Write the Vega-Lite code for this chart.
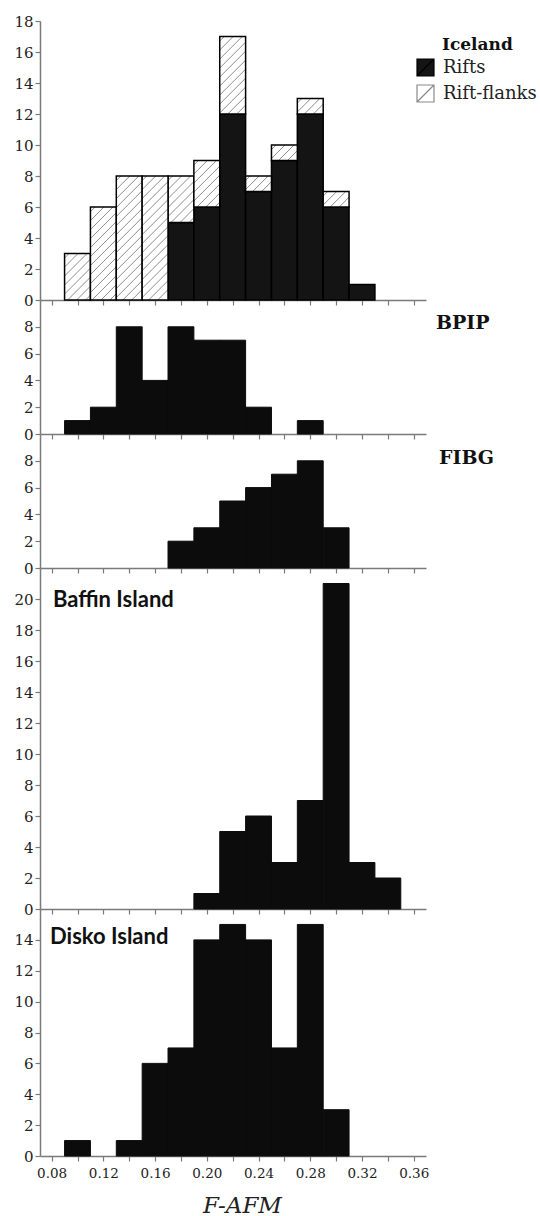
{
  "$schema": "https://vega.github.io/schema/vega-lite/v6.json",
  "padding": {"left": 13, "top": 14, "right": 2, "bottom": 2},
  "bounds": "flush",
  "spacing": 0,
  "background": "white",
  "config": {
    "view": {"stroke": null},
    "axis": {
      "domainColor": "#7a7a7a", "domainWidth": 1.5, "tickColor": "#7a7a7a", "tickWidth": 1.2, "tickSize": 5,
      "labelFont": "DejaVu Serif", "labelColor": "#222222", "grid": false, "labelFlush": false, "labelOverlap": false
    },
    "axisY": {"labelFontSize": 15, "labelPadding": 2},
    "axisX": {"labelFontSize": 13.5, "labelPadding": 5},
    "title": {"anchor": "start", "frame": "group", "orient": "top", "offset": 0, "baseline": "alphabetic", "color": "#111111", "fontWeight": "bold"}
  },
  "datasets": {
    "iceland": [
      {"bin_start": 0.09, "bin_end": 0.11, "type": "Rift-flanks", "count": 3},
      {"bin_start": 0.11, "bin_end": 0.13, "type": "Rift-flanks", "count": 6},
      {"bin_start": 0.13, "bin_end": 0.15, "type": "Rift-flanks", "count": 8},
      {"bin_start": 0.15, "bin_end": 0.17, "type": "Rift-flanks", "count": 8},
      {"bin_start": 0.17, "bin_end": 0.19, "type": "Rifts", "count": 5},
      {"bin_start": 0.17, "bin_end": 0.19, "type": "Rift-flanks", "count": 3},
      {"bin_start": 0.19, "bin_end": 0.21, "type": "Rifts", "count": 6},
      {"bin_start": 0.19, "bin_end": 0.21, "type": "Rift-flanks", "count": 3},
      {"bin_start": 0.21, "bin_end": 0.23, "type": "Rifts", "count": 12},
      {"bin_start": 0.21, "bin_end": 0.23, "type": "Rift-flanks", "count": 5},
      {"bin_start": 0.23, "bin_end": 0.25, "type": "Rifts", "count": 7},
      {"bin_start": 0.23, "bin_end": 0.25, "type": "Rift-flanks", "count": 1},
      {"bin_start": 0.25, "bin_end": 0.27, "type": "Rifts", "count": 9},
      {"bin_start": 0.25, "bin_end": 0.27, "type": "Rift-flanks", "count": 1},
      {"bin_start": 0.27, "bin_end": 0.29, "type": "Rifts", "count": 12},
      {"bin_start": 0.27, "bin_end": 0.29, "type": "Rift-flanks", "count": 1},
      {"bin_start": 0.29, "bin_end": 0.31, "type": "Rifts", "count": 6},
      {"bin_start": 0.29, "bin_end": 0.31, "type": "Rift-flanks", "count": 1},
      {"bin_start": 0.31, "bin_end": 0.33, "type": "Rifts", "count": 1}
    ],
    "bpip": [
      {"bin_start": 0.09, "bin_end": 0.11, "count": 1},
      {"bin_start": 0.11, "bin_end": 0.13, "count": 2},
      {"bin_start": 0.13, "bin_end": 0.15, "count": 8},
      {"bin_start": 0.15, "bin_end": 0.17, "count": 4},
      {"bin_start": 0.17, "bin_end": 0.19, "count": 8},
      {"bin_start": 0.19, "bin_end": 0.21, "count": 7},
      {"bin_start": 0.21, "bin_end": 0.23, "count": 7},
      {"bin_start": 0.23, "bin_end": 0.25, "count": 2},
      {"bin_start": 0.27, "bin_end": 0.29, "count": 1}
    ],
    "fibg": [
      {"bin_start": 0.17, "bin_end": 0.19, "count": 2},
      {"bin_start": 0.19, "bin_end": 0.21, "count": 3},
      {"bin_start": 0.21, "bin_end": 0.23, "count": 5},
      {"bin_start": 0.23, "bin_end": 0.25, "count": 6},
      {"bin_start": 0.25, "bin_end": 0.27, "count": 7},
      {"bin_start": 0.27, "bin_end": 0.29, "count": 8},
      {"bin_start": 0.29, "bin_end": 0.31, "count": 3}
    ],
    "baffin": [
      {"bin_start": 0.19, "bin_end": 0.21, "count": 1},
      {"bin_start": 0.21, "bin_end": 0.23, "count": 5},
      {"bin_start": 0.23, "bin_end": 0.25, "count": 6},
      {"bin_start": 0.25, "bin_end": 0.27, "count": 3},
      {"bin_start": 0.27, "bin_end": 0.29, "count": 7},
      {"bin_start": 0.29, "bin_end": 0.31, "count": 21},
      {"bin_start": 0.31, "bin_end": 0.33, "count": 3},
      {"bin_start": 0.33, "bin_end": 0.35, "count": 2}
    ],
    "disko": [
      {"bin_start": 0.09, "bin_end": 0.11, "count": 1},
      {"bin_start": 0.13, "bin_end": 0.15, "count": 1},
      {"bin_start": 0.15, "bin_end": 0.17, "count": 6},
      {"bin_start": 0.17, "bin_end": 0.19, "count": 7},
      {"bin_start": 0.19, "bin_end": 0.21, "count": 14},
      {"bin_start": 0.21, "bin_end": 0.23, "count": 15},
      {"bin_start": 0.23, "bin_end": 0.25, "count": 14},
      {"bin_start": 0.25, "bin_end": 0.27, "count": 7},
      {"bin_start": 0.27, "bin_end": 0.29, "count": 15},
      {"bin_start": 0.29, "bin_end": 0.31, "count": 3}
    ]
  },
  "vconcat": [
    {
      "width": 386, "height": 279,
      "data": {"name": "iceland"},
      "transform": [
        {"stack": "count", "groupby": ["bin_start"], "sort": [{"field": "type", "order": "descending"}], "as": ["y0", "y1"]}
      ],
      "title": {"text": "Iceland", "dx": 402, "dy": 44, "font": "DejaVu Serif", "fontSize": 17},
      "encoding": {
        "x": {"field": "bin_start", "type": "quantitative", "scale": {"domain": [0.071, 0.3695], "nice": false, "zero": false},
              "axis": {"values": [0.08, 0.1, 0.12, 0.14, 0.16, 0.18, 0.2, 0.22, 0.24, 0.26, 0.28, 0.3, 0.32, 0.34, 0.36], "labels": false, "title": null}},
        "x2": {"field": "bin_end"},
        "y": {"field": "y1", "type": "quantitative", "scale": {"domain": [0, 18], "nice": false},
              "axis": {"values": [0, 2, 4, 6, 8, 10, 12, 14, 16, 18], "title": null}},
        "y2": {"field": "y0"}
      },
      "layer": [
        {
          "transform": [{"filter": "datum.type === 'Rifts'"}],
          "mark": {"type": "bar", "strokeWidth": 1.5},
          "encoding": {
            "color": {"field": "type", "type": "nominal",
              "scale": {"domain": ["Rifts", "Rift-flanks"], "range": ["#141414", "#ffffff"]},
              "legend": {"title": null, "orient": "none", "legendX": 376, "legendY": 37,
                "symbolType": "M-1,-1H1V1H-1ZM-1,1L1,-1", "symbolSize": 289, "symbolStrokeWidth": 1.2,
                "labelFont": "DejaVu Serif", "labelFontSize": 18, "labelColor": "#222222", "labelOffset": 8, "rowPadding": 3}
            },
            "stroke": {"field": "type", "type": "nominal",
              "scale": {"domain": ["Rifts", "Rift-flanks"], "range": ["#000000", "#8a8a8a"]},
              "legend": {"title": null, "orient": "none", "legendX": 376, "legendY": 37,
                "symbolType": "M-1,-1H1V1H-1ZM-1,1L1,-1", "symbolSize": 289, "symbolStrokeWidth": 1.2,
                "labelFont": "DejaVu Serif", "labelFontSize": 18, "labelColor": "#222222", "labelOffset": 8, "rowPadding": 3}
            }
          }
        },
        {
          "transform": [{"filter": "datum.type === 'Rift-flanks' && datum.count === 1"}],
          "mark": {"type": "bar", "stroke": "#000000", "strokeWidth": 1.5,
            "fill": {"gradient": "linear", "x1": 0, "y1": 0, "x2": 1.1767, "y2": 0.7053, "stops": [
              {"offset": 0, "color": "#ffffff"},
              {"offset": 0.0846, "color": "#ffffff"}, {"offset": 0.1088, "color": "#8c8c8c"}, {"offset": 0.1330, "color": "#ffffff"},
              {"offset": 0.3022, "color": "#ffffff"}, {"offset": 0.3264, "color": "#8c8c8c"}, {"offset": 0.3506, "color": "#ffffff"},
              {"offset": 0.5198, "color": "#ffffff"}, {"offset": 0.5440, "color": "#8c8c8c"}, {"offset": 0.5682, "color": "#ffffff"},
              {"offset": 0.7374, "color": "#ffffff"}, {"offset": 0.7616, "color": "#8c8c8c"}, {"offset": 0.7858, "color": "#ffffff"},
              {"offset": 1, "color": "#ffffff"}
            ]}}
        },
        {
          "transform": [{"filter": "datum.type === 'Rift-flanks' && datum.count === 3"}],
          "mark": {"type": "bar", "stroke": "#000000", "strokeWidth": 1.5,
            "fill": {"gradient": "linear", "x1": 0, "y1": 0, "x2": 0.6609, "y2": 1.1885, "stops": [
              {"offset": 0, "color": "#ffffff"},
              {"offset": 0.0484, "color": "#ffffff"}, {"offset": 0.0622, "color": "#8c8c8c"}, {"offset": 0.0760, "color": "#ffffff"},
              {"offset": 0.1728, "color": "#ffffff"}, {"offset": 0.1866, "color": "#8c8c8c"}, {"offset": 0.2004, "color": "#ffffff"},
              {"offset": 0.2971, "color": "#ffffff"}, {"offset": 0.3109, "color": "#8c8c8c"}, {"offset": 0.3247, "color": "#ffffff"},
              {"offset": 0.4215, "color": "#ffffff"}, {"offset": 0.4353, "color": "#8c8c8c"}, {"offset": 0.4491, "color": "#ffffff"},
              {"offset": 0.5459, "color": "#ffffff"}, {"offset": 0.5597, "color": "#8c8c8c"}, {"offset": 0.5735, "color": "#ffffff"},
              {"offset": 0.6703, "color": "#ffffff"}, {"offset": 0.6841, "color": "#8c8c8c"}, {"offset": 0.6979, "color": "#ffffff"},
              {"offset": 0.7947, "color": "#ffffff"}, {"offset": 0.8085, "color": "#8c8c8c"}, {"offset": 0.8223, "color": "#ffffff"},
              {"offset": 0.9190, "color": "#ffffff"}, {"offset": 0.9328, "color": "#8c8c8c"}, {"offset": 0.9466, "color": "#ffffff"},
              {"offset": 1, "color": "#ffffff"}
            ]}}
        },
        {
          "transform": [{"filter": "datum.type === 'Rift-flanks' && datum.count === 5"}],
          "mark": {"type": "bar", "stroke": "#000000", "strokeWidth": 1.5,
            "fill": {"gradient": "linear", "x1": 0, "y1": 0, "x2": 0.4005, "y2": 1.2001, "stops": [
              {"offset": 0, "color": "#ffffff"},
              {"offset": 0.0338, "color": "#ffffff"}, {"offset": 0.0435, "color": "#8c8c8c"}, {"offset": 0.0532, "color": "#ffffff"},
              {"offset": 0.1209, "color": "#ffffff"}, {"offset": 0.1306, "color": "#8c8c8c"}, {"offset": 0.1403, "color": "#ffffff"},
              {"offset": 0.2080, "color": "#ffffff"}, {"offset": 0.2177, "color": "#8c8c8c"}, {"offset": 0.2274, "color": "#ffffff"},
              {"offset": 0.2951, "color": "#ffffff"}, {"offset": 0.3048, "color": "#8c8c8c"}, {"offset": 0.3145, "color": "#ffffff"},
              {"offset": 0.3821, "color": "#ffffff"}, {"offset": 0.3918, "color": "#8c8c8c"}, {"offset": 0.4015, "color": "#ffffff"},
              {"offset": 0.4692, "color": "#ffffff"}, {"offset": 0.4789, "color": "#8c8c8c"}, {"offset": 0.4886, "color": "#ffffff"},
              {"offset": 0.5563, "color": "#ffffff"}, {"offset": 0.5660, "color": "#8c8c8c"}, {"offset": 0.5757, "color": "#ffffff"},
              {"offset": 0.6433, "color": "#ffffff"}, {"offset": 0.6530, "color": "#8c8c8c"}, {"offset": 0.6627, "color": "#ffffff"},
              {"offset": 0.7304, "color": "#ffffff"}, {"offset": 0.7401, "color": "#8c8c8c"}, {"offset": 0.7498, "color": "#ffffff"},
              {"offset": 0.8175, "color": "#ffffff"}, {"offset": 0.8272, "color": "#8c8c8c"}, {"offset": 0.8369, "color": "#ffffff"},
              {"offset": 0.9046, "color": "#ffffff"}, {"offset": 0.9143, "color": "#8c8c8c"}, {"offset": 0.9240, "color": "#ffffff"},
              {"offset": 1, "color": "#ffffff"}
            ]}}
        },
        {
          "transform": [{"filter": "datum.type === 'Rift-flanks' && datum.count === 6"}],
          "mark": {"type": "bar", "stroke": "#000000", "strokeWidth": 1.5,
            "fill": {"gradient": "linear", "x1": 0, "y1": 0, "x2": 0.3299, "y2": 1.1864, "stops": [
              {"offset": 0, "color": "#ffffff"},
              {"offset": 0.0295, "color": "#ffffff"}, {"offset": 0.0379, "color": "#8c8c8c"}, {"offset": 0.0463, "color": "#ffffff"},
              {"offset": 0.1052, "color": "#ffffff"}, {"offset": 0.1136, "color": "#8c8c8c"}, {"offset": 0.1220, "color": "#ffffff"},
              {"offset": 0.1809, "color": "#ffffff"}, {"offset": 0.1893, "color": "#8c8c8c"}, {"offset": 0.1977, "color": "#ffffff"},
              {"offset": 0.2566, "color": "#ffffff"}, {"offset": 0.2650, "color": "#8c8c8c"}, {"offset": 0.2734, "color": "#ffffff"},
              {"offset": 0.3323, "color": "#ffffff"}, {"offset": 0.3407, "color": "#8c8c8c"}, {"offset": 0.3491, "color": "#ffffff"},
              {"offset": 0.4081, "color": "#ffffff"}, {"offset": 0.4165, "color": "#8c8c8c"}, {"offset": 0.4249, "color": "#ffffff"},
              {"offset": 0.4838, "color": "#ffffff"}, {"offset": 0.4922, "color": "#8c8c8c"}, {"offset": 0.5006, "color": "#ffffff"},
              {"offset": 0.5595, "color": "#ffffff"}, {"offset": 0.5679, "color": "#8c8c8c"}, {"offset": 0.5763, "color": "#ffffff"},
              {"offset": 0.6352, "color": "#ffffff"}, {"offset": 0.6436, "color": "#8c8c8c"}, {"offset": 0.6520, "color": "#ffffff"},
              {"offset": 0.7109, "color": "#ffffff"}, {"offset": 0.7193, "color": "#8c8c8c"}, {"offset": 0.7277, "color": "#ffffff"},
              {"offset": 0.7867, "color": "#ffffff"}, {"offset": 0.7951, "color": "#8c8c8c"}, {"offset": 0.8035, "color": "#ffffff"},
              {"offset": 0.8624, "color": "#ffffff"}, {"offset": 0.8708, "color": "#8c8c8c"}, {"offset": 0.8792, "color": "#ffffff"},
              {"offset": 0.9381, "color": "#ffffff"}, {"offset": 0.9465, "color": "#8c8c8c"}, {"offset": 0.9549, "color": "#ffffff"},
              {"offset": 1, "color": "#ffffff"}
            ]}}
        },
        {
          "transform": [{"filter": "datum.type === 'Rift-flanks' && datum.count === 8"}],
          "mark": {"type": "bar", "stroke": "#000000", "strokeWidth": 1.5,
            "fill": {"gradient": "linear", "x1": 0, "y1": 0, "x2": 0.2415, "y2": 1.1581, "stops": [
              {"offset": 0, "color": "#ffffff"},
              {"offset": 0.0233, "color": "#ffffff"}, {"offset": 0.0300, "color": "#8c8c8c"}, {"offset": 0.0367, "color": "#ffffff"},
              {"offset": 0.0834, "color": "#ffffff"}, {"offset": 0.0901, "color": "#8c8c8c"}, {"offset": 0.0968, "color": "#ffffff"},
              {"offset": 0.1434, "color": "#ffffff"}, {"offset": 0.1501, "color": "#8c8c8c"}, {"offset": 0.1568, "color": "#ffffff"},
              {"offset": 0.2035, "color": "#ffffff"}, {"offset": 0.2102, "color": "#8c8c8c"}, {"offset": 0.2169, "color": "#ffffff"},
              {"offset": 0.2636, "color": "#ffffff"}, {"offset": 0.2703, "color": "#8c8c8c"}, {"offset": 0.2770, "color": "#ffffff"},
              {"offset": 0.3236, "color": "#ffffff"}, {"offset": 0.3303, "color": "#8c8c8c"}, {"offset": 0.3370, "color": "#ffffff"},
              {"offset": 0.3837, "color": "#ffffff"}, {"offset": 0.3904, "color": "#8c8c8c"}, {"offset": 0.3971, "color": "#ffffff"},
              {"offset": 0.4437, "color": "#ffffff"}, {"offset": 0.4504, "color": "#8c8c8c"}, {"offset": 0.4571, "color": "#ffffff"},
              {"offset": 0.5038, "color": "#ffffff"}, {"offset": 0.5105, "color": "#8c8c8c"}, {"offset": 0.5172, "color": "#ffffff"},
              {"offset": 0.5638, "color": "#ffffff"}, {"offset": 0.5705, "color": "#8c8c8c"}, {"offset": 0.5772, "color": "#ffffff"},
              {"offset": 0.6239, "color": "#ffffff"}, {"offset": 0.6306, "color": "#8c8c8c"}, {"offset": 0.6373, "color": "#ffffff"},
              {"offset": 0.6839, "color": "#ffffff"}, {"offset": 0.6906, "color": "#8c8c8c"}, {"offset": 0.6973, "color": "#ffffff"},
              {"offset": 0.7440, "color": "#ffffff"}, {"offset": 0.7507, "color": "#8c8c8c"}, {"offset": 0.7574, "color": "#ffffff"},
              {"offset": 0.8041, "color": "#ffffff"}, {"offset": 0.8108, "color": "#8c8c8c"}, {"offset": 0.8175, "color": "#ffffff"},
              {"offset": 0.8641, "color": "#ffffff"}, {"offset": 0.8708, "color": "#8c8c8c"}, {"offset": 0.8775, "color": "#ffffff"},
              {"offset": 0.9242, "color": "#ffffff"}, {"offset": 0.9309, "color": "#8c8c8c"}, {"offset": 0.9376, "color": "#ffffff"},
              {"offset": 1, "color": "#ffffff"}
            ]}}
        }
      ]
    },
    {
      "width": 386, "height": 134,
      "data": {"name": "bpip"},
      "title": {"text": "BPIP", "dx": 396, "dy": 37, "font": "DejaVu Serif", "fontSize": 19},
      "mark": {"type": "bar", "color": "#0c0c0c", "stroke": "#0c0c0c", "strokeWidth": 1},
      "encoding": {
        "x": {"field": "bin_start", "type": "quantitative", "scale": {"domain": [0.071, 0.3695], "nice": false, "zero": false},
              "axis": {"values": [0.08, 0.1, 0.12, 0.14, 0.16, 0.18, 0.2, 0.22, 0.24, 0.26, 0.28, 0.3, 0.32, 0.34, 0.36], "labels": false, "title": null}},
        "x2": {"field": "bin_end"},
        "y": {"field": "count", "type": "quantitative", "stack": null, "scale": {"domain": [0, 10], "nice": false},
              "axis": {"values": [0, 2, 4, 6, 8], "title": null}},
        "y2": {"datum": 0}
      }
    },
    {
      "width": 386, "height": 134,
      "data": {"name": "fibg"},
      "title": {"text": "FIBG", "dx": 399, "dy": 38, "font": "DejaVu Serif", "fontSize": 19},
      "mark": {"type": "bar", "color": "#0c0c0c", "stroke": "#0c0c0c", "strokeWidth": 1},
      "encoding": {
        "x": {"field": "bin_start", "type": "quantitative", "scale": {"domain": [0.071, 0.3695], "nice": false, "zero": false},
              "axis": {"values": [0.08, 0.1, 0.12, 0.14, 0.16, 0.18, 0.2, 0.22, 0.24, 0.26, 0.28, 0.3, 0.32, 0.34, 0.36], "labels": false, "title": null}},
        "x2": {"field": "bin_end"},
        "y": {"field": "count", "type": "quantitative", "stack": null, "scale": {"domain": [0, 10], "nice": false},
              "axis": {"values": [0, 2, 4, 6, 8], "title": null}},
        "y2": {"datum": 0}
      }
    },
    {
      "width": 386, "height": 341,
      "data": {"name": "baffin"},
      "title": {"text": "Baffin Island", "dx": 13, "dy": 48, "font": "Lato", "fontSize": 22},
      "mark": {"type": "bar", "color": "#0c0c0c", "stroke": "#0c0c0c", "strokeWidth": 1},
      "encoding": {
        "x": {"field": "bin_start", "type": "quantitative", "scale": {"domain": [0.071, 0.3695], "nice": false, "zero": false},
              "axis": {"values": [0.08, 0.1, 0.12, 0.14, 0.16, 0.18, 0.2, 0.22, 0.24, 0.26, 0.28, 0.3, 0.32, 0.34, 0.36], "labels": false, "title": null}},
        "x2": {"field": "bin_end"},
        "y": {"field": "count", "type": "quantitative", "stack": null, "scale": {"domain": [0, 22], "nice": false},
              "axis": {"values": [0, 2, 4, 6, 8, 10, 12, 14, 16, 18, 20], "title": null}},
        "y2": {"datum": 0}
      }
    },
    {
      "width": 386, "height": 247,
      "data": {"name": "disko"},
      "title": {"text": "Disko Island", "dx": 10, "dy": 44, "font": "Lato", "fontSize": 22},
      "mark": {"type": "bar", "color": "#0c0c0c", "stroke": "#0c0c0c", "strokeWidth": 1},
      "encoding": {
        "x": {"field": "bin_start", "type": "quantitative", "scale": {"domain": [0.071, 0.3695], "nice": false, "zero": false},
              "axis": {"values": [0.08, 0.1, 0.12, 0.14, 0.16, 0.18, 0.2, 0.22, 0.24, 0.26, 0.28, 0.3, 0.32, 0.34, 0.36],
                       "labelExpr": "round(datum.value * 100) % 4 === 0 ? format(datum.value, '.2f') : ''",
                       "title": "F-AFM", "titleFont": "DejaVu Serif", "titleFontStyle": "italic", "titleFontWeight": "normal",
                       "titleFontSize": 23, "titleColor": "#222222", "titleX": 202, "titleY": 56, "titleBaseline": "alphabetic", "titleAlign": "center"}},
        "x2": {"field": "bin_end"},
        "y": {"field": "count", "type": "quantitative", "stack": null, "scale": {"domain": [0, 16], "nice": false},
              "axis": {"values": [0, 2, 4, 6, 8, 10, 12, 14], "title": null}},
        "y2": {"datum": 0}
      }
    }
  ]
}
